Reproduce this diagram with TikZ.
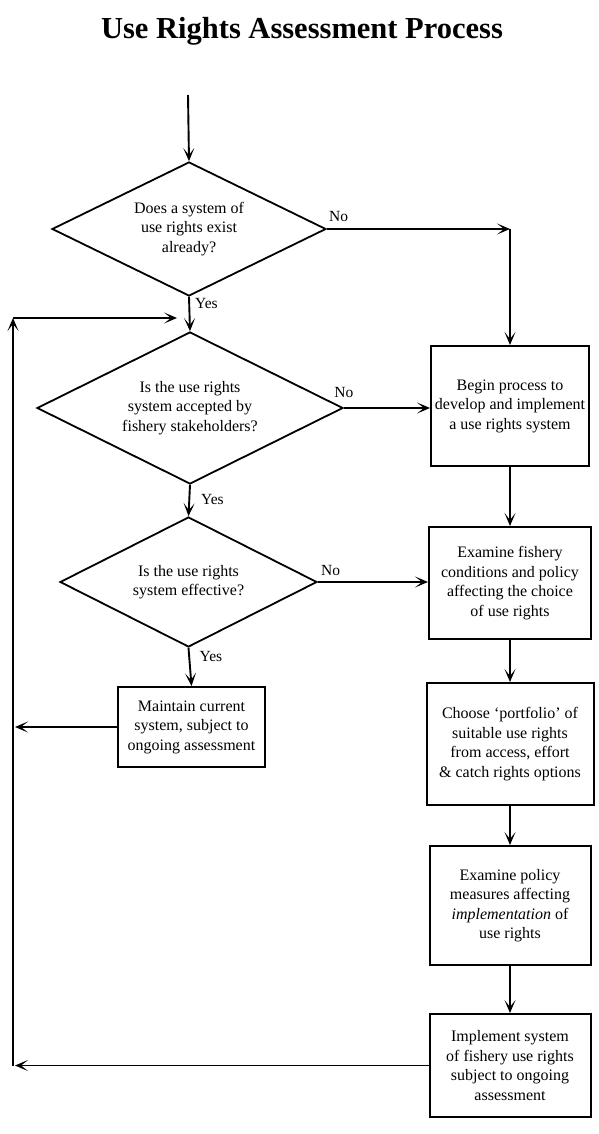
\documentclass[tikz,border=0pt]{standalone}
\usepackage{fontspec}
\setmainfont{Liberation Serif}
\usetikzlibrary{shapes.geometric,arrows.meta,calc}
\begin{document}
\begin{tikzpicture}[x=1pt,y=-1pt,
  every node/.style={font=\fontsize{16}{19.5}\selectfont},
  dia/.style={draw,line width=1.8pt,shape=diamond,inner sep=0pt,align=center},
  boxn/.style={draw,line width=2pt,rectangle,inner sep=0pt,align=center},
  lbl/.style={inner sep=0pt,font=\fontsize{15.5}{18}\selectfont},
  arr/.style={line width=1.9pt,-{Stealth[length=13pt,width=11pt,inset=7pt]}}]
\useasboundingbox (0,0) rectangle (599,1134);
\fill[white] (0,0) rectangle (599,1134);
\node[font=\fontsize{30.5}{34}\bfseries] (title) at (302,31) {Use Rights Assessment Process};
\coordinate (start) at (188,95);
\node[dia,minimum width=274pt,minimum height=134pt,aspect=2.04] (d1) at (189,229) {Does a system of\\use rights exist\\already?};
\node[dia,minimum width=306pt,minimum height=152pt,aspect=2.01] (d2) at (190,408) {Is the use rights\\system accepted by\\fishery stakeholders?};
\node[dia,minimum width=257pt,minimum height=130pt,aspect=1.98] (d3) at (188.5,582) {Is the use rights\\system effective?};
\node[boxn,minimum width=158pt,minimum height=120pt] (b1) at (510,406) {Begin process to\\develop and implement\\a use rights system};
\node[boxn,minimum width=162pt,minimum height=112pt] (b2) at (510,583) {Examine fishery\\conditions and policy\\affecting the choice\\of use rights};
\node[boxn,minimum width=167pt,minimum height=122pt] (b3) at (510,744) {Choose ‘portfolio’ of\\suitable use rights\\from access, effort\\\& catch rights options};
\node[boxn,minimum width=161pt,minimum height=119pt] (b4) at (510,905.5) {Examine policy\\measures affecting\\\textit{implementation} of\\use rights};
\node[boxn,minimum width=161pt,minimum height=103pt] (b5) at (510,1065.5) {Implement system\\of fishery use rights\\subject to ongoing\\assessment};
\node[boxn,minimum width=147pt,minimum height=80pt] (bm) at (191.5,727) {Maintain current\\system, subject to\\ongoing assessment};
\coordinate (corner) at (b1.north |- d1.east);
\coordinate (loopbot) at (13,1066);
\coordinate (looptop) at (13,318);
\coordinate (loopend) at (177,318);
\coordinate (mleft) at (15,728);
% connectors
\draw[arr] (start) -- (d1.north);
\draw[arr] (d1.east) -- (corner);
\draw[arr] (corner) -- (b1.north);
\draw[arr] (d1.south) -- (d2.north);
\draw[arr] (d2.east) -- (d2.east -| b1.west);
\draw[arr] (d2.south) -- (d3.north);
\draw[arr] (d3.east) -- (d3.east -| b2.west);
\draw[arr] (d3.south) -- (bm.north);
\draw[arr] (b1.south) -- (b2.north);
\draw[arr] (b2.south) -- (b3.north);
\draw[arr] (b3.south) -- (b4.north);
\draw[arr] (b4.south) -- (b5.north);
\draw[arr] (bm.west) -- (bm.west -| mleft);
\draw[arr] (b5.west) -- (b5.west -| mleft);
\draw[arr] (loopbot) -- (looptop);
\draw[arr] (looptop) -- (loopend);
% labels
\node[lbl,anchor=south west] (no1) at ([xshift=2pt,yshift=7pt]d1.east) {No};
\node[lbl,anchor=north west] (yes1) at ([xshift=6pt,yshift=-1pt]d1.south) {Yes};
\node[lbl] (no2) at ([yshift=16pt]d2.east) {No};
\node[lbl,anchor=north west] (yes2) at ([xshift=11pt,yshift=-9pt]d2.south) {Yes};
\node[lbl,anchor=south west] (no3) at ([xshift=3pt,yshift=6pt]d3.east) {No};
\node[lbl,anchor=north west] (yes3) at ([xshift=11pt,yshift=-3pt]d3.south) {Yes};
\end{tikzpicture}
\end{document}
